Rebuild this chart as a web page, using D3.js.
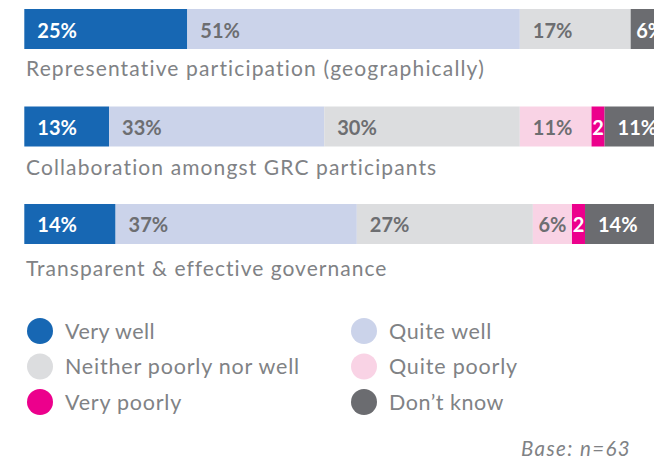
<!DOCTYPE html>
<html>
<head>
<meta charset="utf-8">
<script src="https://cdn.jsdelivr.net/npm/d3@7"></script>
<style>
  html, body { margin: 0; padding: 0; background: #ffffff; }
  svg { display: block; }
  text { font-family: Lato, "Noto Sans", sans-serif; }
</style>
</head>
<body>
<svg id="chart" width="654" height="459"></svg>
<script>
// ---- data ----
const categories = [
  "Representative participation (geographically)",
  "Collaboration amongst GRC participants",
  "Transparent & effective governance"
];
const seriesNames = ["Very well", "Quite well", "Neither poorly nor well", "Quite poorly", "Very poorly", "Don’t know"];
const veryWell      = [25, 13, 14];
const quiteWell     = [51, 33, 37];
const neither       = [17, 30, 27];
const quitePoorly   = [0, 11, 6];
const veryPoorly    = [0, 2, 2];
const dontKnow      = [6, 11, 14];
const seriesValues = [veryWell, quiteWell, neither, quitePoorly, veryPoorly, dontKnow];
const seriesColors = ["#1767b3", "#cbd3ea", "#dcdddf", "#f9d3e5", "#ec008c", "#6b6c70"];
const labelColors  = ["#ffffff", "#6d6e71", "#6d6e71", "#6d6e71", "#ffffff", "#ffffff"];
const baseNote = "Base: n=63";

// ---- layout ----
const svg = d3.select("#chart");

const x = d3.scaleLinear().domain([0, 100]).range([24.3, 676.3]);
const y = d3.scaleBand().domain(categories).range([9, 244]).paddingInner(0.5897).paddingOuter(0);
const labelGap = [27, 28, 32];
const catLabelWidths = [460, 412, 361];
const legendWidths = [90, 103, 235, 129, 117, 115];

// stretch a text to a target width by letter-spacing
function fitWidth(sel, target) {
  const node = sel.node();
  const n = sel.text().length;
  const natural = node.getComputedTextLength();
  sel.attr("letter-spacing", (target - natural) / n);
}

// build stacked table
const table = categories.map((c, i) => {
  const row = { category: c };
  seriesNames.forEach((s, k) => row[s] = seriesValues[k][i]);
  return row;
});
const stack = d3.stack().keys(seriesNames)(table);

const color = d3.scaleOrdinal().domain(seriesNames).range(seriesColors);
const lblColor = d3.scaleOrdinal().domain(seriesNames).range(labelColors);

const gBars = svg.append("g");
stack.forEach(layer => {
  const key = layer.key;
  const g = gBars.append("g");
  layer.forEach((seg, i) => {
    const v = seg[1] - seg[0];
    if (v <= 0) return;
    const cat = categories[i];
    const x0 = x(seg[0]), x1 = x(seg[1]);
    g.append("rect")
      .attr("x", x0).attr("y", y(cat))
      .attr("width", x1 - x0).attr("height", y.bandwidth())
      .attr("fill", color(key));
    const label = key === "Very poorly" ? `${v}` : `${v}%`;
    const t = g.append("text")
      .attr("y", y(cat) + 28.5)
      .attr("fill", lblColor(key))
      .attr("font-size", 20)
      .attr("font-weight", 700)
      .text(label);
    const tw = t.node().getComputedTextLength();
    if (x1 - x0 < tw + 24) {
      t.attr("x", (x0 + x1) / 2).attr("text-anchor", "middle");
    } else {
      t.attr("x", x0 + 13);
    }
  });
});

// category labels
svg.append("g").selectAll("text")
  .data(categories)
  .join("text")
  .attr("x", 26)
  .attr("y", (d, i) => y(d) + y.bandwidth() + labelGap[i])
  .attr("fill", "#808285")
  .attr("font-size", 21)
  .text(d => d)
  .each(function(d, i) { fitWidth(d3.select(this), catLabelWidths[i]); });

// legend
const legendCols = [40, 364];
const legendRows = [331, 366.5, 402];
const lg = svg.append("g");
seriesNames.forEach((s, k) => {
  const cx = legendCols[k % 2], cy = legendRows[Math.floor(k / 2)];
  lg.append("circle").attr("cx", cx).attr("cy", cy).attr("r", 13).attr("fill", color(s));
  const t = lg.append("text")
    .attr("x", cx + 25).attr("y", cy + 7.5)
    .attr("fill", "#808285")
    .attr("font-size", 21.5)
    .text(s);
  fitWidth(t, legendWidths[k]);
});

const bt = svg.append("text")
  .attr("x", 521).attr("y", 455.5)
  .attr("fill", "#808285")
  .attr("font-size", 20.5)
  .attr("font-style", "italic")
  .text(baseNote);
fitWidth(bt, 110);
</script>
</body>
</html>
